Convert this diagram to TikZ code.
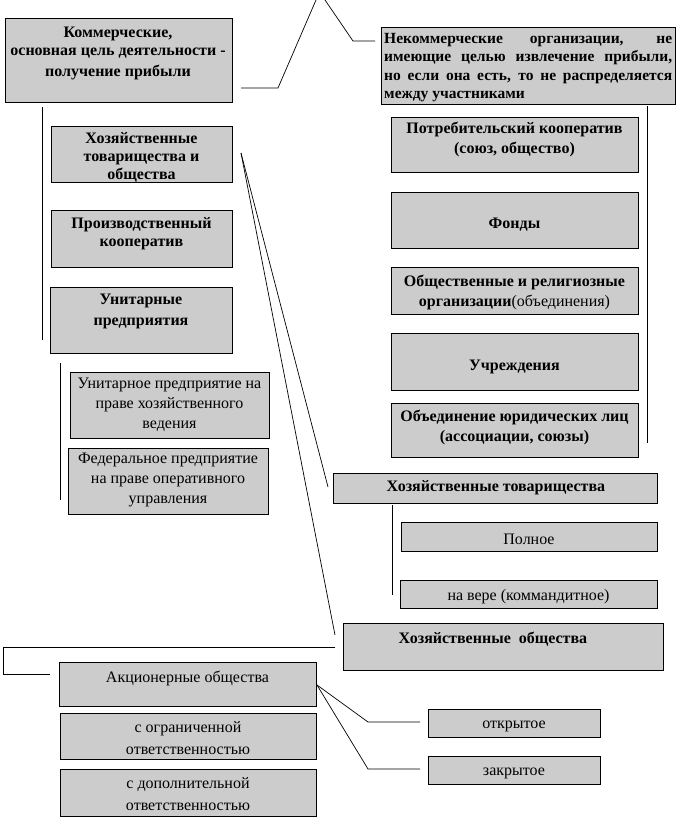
\documentclass[tikz,border=0pt]{standalone}
\usepackage{fontspec}
\setmainfont{Liberation Serif}
\usetikzlibrary{positioning,fit}
\definecolor{boxgray}{RGB}{204,204,204}

\begin{document}
\begin{tikzpicture}[x=1pt, y=-1pt,
  orgbox/.style={draw=black, fill=boxgray, line width=1pt, inner sep=0pt},
  hd/.style={font=\fontsize{16}{18}\selectfont\bfseries, align=center, inner sep=0pt, yshift=-2pt},
  tx/.style={font=\fontsize{16}{20}\selectfont, align=center, inner sep=0pt, yshift=-2pt},
  link/.style={line width=0.7pt}]
  \useasboundingbox (0,0) rectangle (679,820);

  % Top level
  \node[orgbox, fit={(5,18) (232,102)}] (com) {};
  \node[hd] (com-t) at (118,51)
    {Коммерческие,\\основная цель деятельности -\\[3pt]получение прибыли};
  \node[orgbox, fit={(381,27) (675,104)}] (nonc) {};
  \node[hd, align=left, anchor=west, font=\fontsize{15.5}{18.5}\selectfont\bfseries] (nonc-t) at (384,65.5)
    {\makebox[288pt][s]{Некоммерческие организации, не}\\
     \makebox[288pt][s]{имеющие целью извлечение прибыли,}\\
     \makebox[288pt][s]{но если она есть, то не распределяется}\\
     между участниками};

  % Commercial branch
  \node[orgbox, fit={(51,126) (232,182)}] (hto) {};
  \node[hd] (hto-t) at (141.5,155) {Хозяйственные\\товарищества и\\общества};
  \node[orgbox, fit={(51,210) (232,267)}] (prk) {};
  \node[hd] (prk-t) at (141.5,232) {Производственный\\кооператив};
  \node[orgbox, fit={(50,287) (232,353)}] (unit) {};
  \node[hd] (unit-t) at (141,309.5) {Унитарные\\[3pt]предприятия};
  \node[orgbox, fit={(70,372) (269,438)}] (uphv) {};
  \node[tx] (uphv-t) at (169.5,403) {Унитарное предприятие на\\праве хозяйственного\\ведения};
  \node[orgbox, fit={(68,448) (268,514)}] (fpou) {};
  \node[tx] (fpou-t) at (168,478) {Федеральное предприятие\\на праве оперативного\\управления};

  % Non-commercial branch
  \node[orgbox, fit={(391,117) (638,172)}] (pk) {};
  \node[hd] (pk-t) at (514.5,137) {Потребительский кооператив\\[2pt](союз, общество)};
  \node[orgbox, fit={(391,192) (638,248)}] (fond) {};
  \node[hd] (fond-t) at (514.5,223) {Фонды};
  \node[orgbox, fit={(391,267) (638,314)}] (obsch) {};
  \node[hd] (obsch-t) at (514.5,290)
    {Общественные и религиозные\\[2pt]организации{\mdseries(объединения)}};
  \node[orgbox, fit={(391,333) (638,390)}] (uchr) {};
  \node[hd] (uchr-t) at (514.5,365) {Учреждения};
  \node[orgbox, fit={(391,403) (638,457)}] (objed) {};
  \node[hd] (objed-t) at (514.5,425) {Объединение юридических лиц\\[2pt](ассоциации, союзы)};

  % Partnerships
  \node[orgbox, fit={(333,473) (657,503)}] (htov) {};
  \node[hd] (htov-t) at (496,486) {Хозяйственные товарищества};
  \node[orgbox, fit={(401,522) (657,551)}] (poln) {};
  \node[tx] (poln-t) at (529,537) {Полное};
  \node[orgbox, fit={(400,580) (657,608)}] (komm) {};
  \node[tx] (komm-t) at (528.5,595) {на вере (коммандитное)};

  % Companies
  \node[orgbox, fit={(343,623) (663,670)}] (hobs) {};
  \node[hd] (hobs-t) at (493,637) {Хозяйственные\ \ общества};
  \node[orgbox, fit={(59,662) (316,706)}] (ao) {};
  \node[tx] (ao-t) at (187.5,676) {Акционерные общества};
  \node[orgbox, fit={(60,713) (316,759)}] (ooo) {};
  \node[tx] (ooo-t) at (188,736) {с ограниченной\\[2pt]ответственностью};
  \node[orgbox, fit={(60,769) (316,816)}] (odo) {};
  \node[tx] (odo-t) at (188,792.5) {с дополнительной\\[2pt]ответственностью};
  \node[orgbox, fit={(428,709) (600,737)}] (otk) {};
  \node[tx] (otk-t) at (514,724) {открытое};
  \node[orgbox, fit={(428,756) (600,784)}] (zak) {};
  \node[tx] (zak-t) at (514,771) {закрытое};

  % Connector points
  \coordinate (top-l) at (316,0);
  \coordinate (top-r) at (325,0);
  \coordinate (com-a) at (241,88);
  \coordinate (com-b) at (278,88);
  \coordinate (nonc-a) at (353,41);
  \coordinate (nonc-b) at (375,41);
  \coordinate (com-v1) at (42,107);
  \coordinate (com-v2) at (42,340);
  \coordinate (unit-v1) at (60,363);
  \coordinate (unit-v2) at (60,500);
  \coordinate (nonc-v1) at (647,106);
  \coordinate (nonc-v2) at (647,443);
  \coordinate (htov-v1) at (392,505);
  \coordinate (htov-v2) at (392,595);
  \coordinate (hto-a) at (241,153);
  \coordinate (htov-a) at (328,487);
  \coordinate (hobs-a) at (335,635);
  \coordinate (hobs-b) at (335,647);
  \coordinate (ao-l1) at (3,647);
  \coordinate (ao-l2) at (3,674);
  \coordinate (ao-l3) at (50,674);
  \coordinate (ao-a) at (317,685);
  \coordinate (otk-a) at (368,722);
  \coordinate (otk-b) at (420,722);
  \coordinate (zak-a) at (368,769);
  \coordinate (zak-b) at (420,769);

  % Connectors
  \draw[link] (com-a) -- (com-b) -- (top-l);
  \draw[link] (top-r) -- (nonc-a) -- (nonc-b);
  \draw[link] (com-v1) -- (com-v2);
  \draw[link] (unit-v1) -- (unit-v2);
  \draw[link] (nonc-v1) -- (nonc-v2);
  \draw[link] (htov-v1) -- (htov-v2);
  \draw[link] (hto-a) -- (htov-a);
  \draw[link] (hto-a) -- (hobs-a);
  \draw[link] (hobs-b) -- (ao-l1) -- (ao-l2) -- (ao-l3);
  \draw[link] (ao-a) -- (otk-a) -- (otk-b);
  \draw[link] (ao-a) -- (zak-a) -- (zak-b);
\end{tikzpicture}
\end{document}
